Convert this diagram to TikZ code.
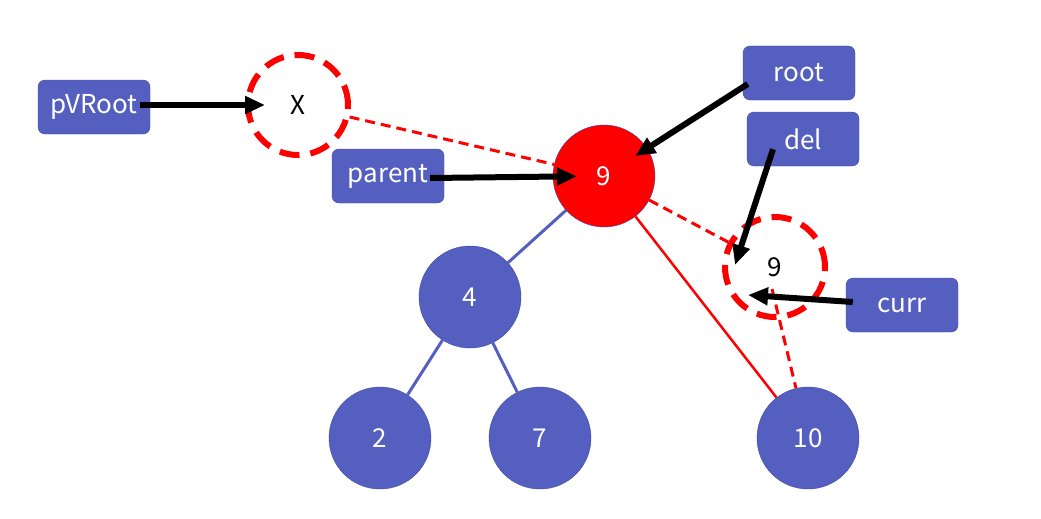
\documentclass[tikz,border=0pt]{standalone}
\usepackage{fontspec}
\setmainfont{Noto Sans CJK SC}
\usetikzlibrary{arrows.meta,calc}
\definecolor{nodeblue}{HTML}{545FC0}
\definecolor{rimblue}{HTML}{3F489E}
\tikzset{
  tnode/.style={circle, draw=rimblue, fill=nodeblue, text=white, minimum size=102pt, inner sep=0pt, font=\fontsize{26}{30}\selectfont},
  delnode/.style={tnode, fill=red},
  ghost/.style={circle, draw=red, line width=6pt, dash pattern=on 20pt off 11pt, minimum size=100pt, inner sep=0pt, font=\fontsize{26}{30}\selectfont},
  ptrbox/.style={rectangle, rounded corners=7pt, draw=rimblue, fill=nodeblue, text=white, minimum width=112pt, minimum height=54pt, font=\fontsize{26}{30}\selectfont},
  ptr/.style={-{Triangle[length=20pt,width=17pt]}, line width=6pt, black},
  link/.style={line width=3pt, nodeblue},
  oldlink/.style={line width=3pt, red, dash pattern=on 10pt off 6pt},
}
\begin{document}
\begin{tikzpicture}[x=1pt,y=-1pt]
	\useasboundingbox (0,0) rectangle (1041,519);
	% tree
	\node[delnode] (n9) at (604,176) {9};
	\node[tnode] (n4) at (470,297) {4};
	\node[tnode] (n2) at (380,438) {2};
	\node[tnode] (n7) at (540,438) {7};
	\node[tnode] (n10) at (808,438) {10};
	\node[ghost] (nx) at (298,105) {X};
	\node[ghost] (nd) at (775,267) {9};
	\draw[link] (n9) -- (n4);
	\draw[link] (n4) -- (n2);
	\draw[link] (n4) -- (n7);
	\draw[line width=2.5pt, red] (n9) -- (n10);
	\draw[oldlink] (nx) -- (n9);
	\draw[oldlink] (n9) -- (nd);
	\coordinate (ndfoot) at ($(nd)+(-3,22)$);
	\draw[oldlink] (ndfoot) -- (n10);
	% pointers
	\node[ptrbox] (pvroot) at (94,107) {pVRoot};
	\node[ptrbox] (parent) at (388,176) {parent};
	\node[ptrbox] (root) at (799,73) {root};
	\node[ptrbox] (del) at (803,139) {del};
	\node[ptrbox] (curr) at (902,305) {curr};
	\coordinate (deltip) at ($(nd)+(-40,-2)$);
	\coordinate (currtip) at ($(nd)+(-27,28)$);
	\draw[ptr, shorten >=33pt] ($(pvroot.east)+(-10,-2)$) -- (nx.center);
	\draw[ptr, shorten >=27pt] ($(parent.east)+(-14,2)$) -- (n9.center);
	\draw[ptr, shorten >=37pt] ($(root.west)+(5,11)$) -- (n9.center);
	\draw[ptr] ($(del.south)+(-30,-17)$) -- (deltip);
	\draw[ptr] ($(curr.west)+(7,-3)$) -- (currtip);
\end{tikzpicture}
\end{document}
